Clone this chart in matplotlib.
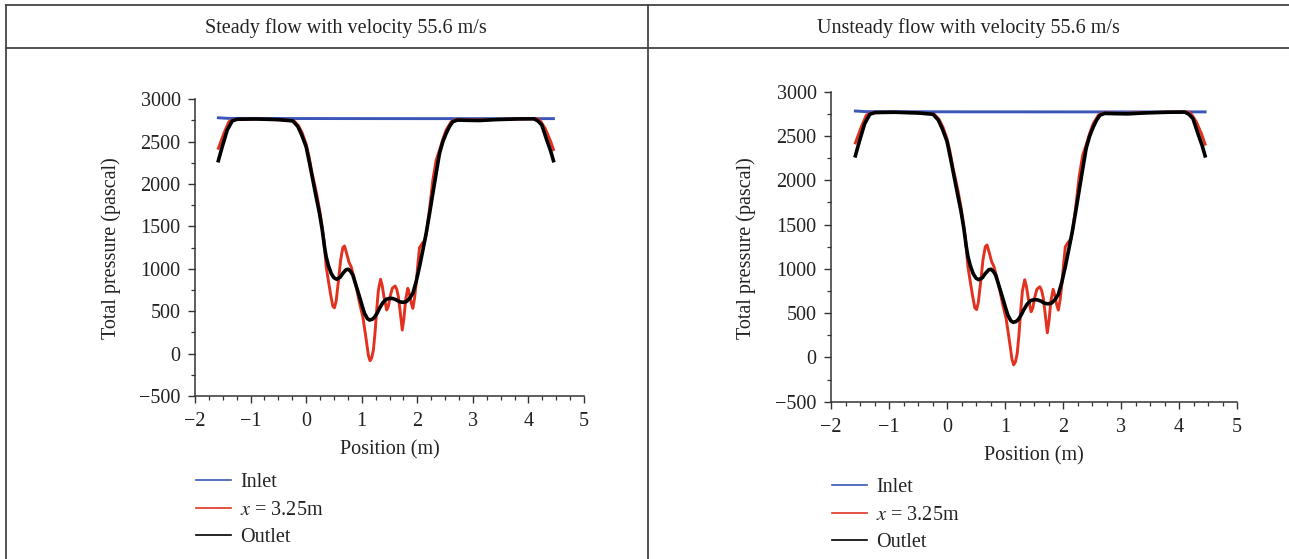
import matplotlib
matplotlib.use('Agg')
import matplotlib.pyplot as plt
from matplotlib.lines import Line2D
from matplotlib.ticker import MultipleLocator

plt.rcParams['font.family'] = ['Liberation Serif', 'DejaVu Serif']
plt.rcParams['mathtext.fontset'] = 'stix'

# ---- data (position in m, total pressure in Pa) ----
titles = ['Steady flow with velocity 55.6 m/s', 'Unsteady flow with velocity 55.6 m/s']
series_names = ['Inlet', '$x$ = 3.25m', 'Outlet']

inlet_x = [-1.58, -1.4, 0.0, 2.0, 4.45]
inlet_p = [2782, 2775, 2773, 2772, 2772]

mid_x = [-1.58, -1.48, -1.39, -1.30, -1.0, -0.6, -0.3, -0.22, -0.14, -0.07, 0.0, 0.05,
         0.10, 0.14, 0.19, 0.24, 0.28, 0.32, 0.36, 0.40, 0.44, 0.48, 0.51, 0.54, 0.58,
         0.62, 0.66, 0.69, 0.73, 0.77, 0.81, 0.86, 0.90, 0.96, 1.02, 1.06, 1.09, 1.12,
         1.15, 1.18, 1.21, 1.24, 1.27, 1.30, 1.34, 1.37, 1.40, 1.45, 1.48, 1.51, 1.55,
         1.60, 1.63, 1.66, 1.70, 1.73, 1.76, 1.79, 1.83, 1.86, 1.89, 1.92, 1.95, 1.98,
         2.01, 2.04, 2.09, 2.14, 2.17, 2.22, 2.28, 2.34, 2.40, 2.46, 2.52, 2.61, 2.70,
         3.0, 3.4, 3.8, 4.16, 4.22, 4.30, 4.39, 4.45]
mid_p = [2422, 2599, 2736, 2760, 2768, 2762, 2752, 2745, 2690, 2600, 2470, 2330,
         2150, 2030, 1880, 1700, 1530, 1330, 1030, 860, 700, 560, 540, 620, 850,
         1100, 1250, 1270, 1180, 1080, 1025, 900, 790, 600, 435, 260, 122, -20,
         -84, -50, 42, 250, 520, 750, 877, 800, 671, 515, 560, 671, 770,
         798, 760, 671, 450, 278, 420, 633, 770, 700, 600, 534, 650, 830,
         1050, 1250, 1301, 1340, 1450, 1700, 2048, 2284, 2400, 2530, 2638, 2736, 2760,
         2755, 2762, 2770, 2770, 2740, 2658, 2520, 2408]

outlet_x = [-1.58, -1.51, -1.42, -1.33, -1.24, -0.9, -0.5, -0.24, -0.15, -0.08, 0.0,
            0.06, 0.12, 0.18, 0.24, 0.29, 0.33, 0.36, 0.40, 0.45, 0.50, 0.55, 0.61,
            0.66, 0.72, 0.76, 0.80, 0.84, 0.90, 0.96, 1.01, 1.05, 1.10, 1.14, 1.19,
            1.23, 1.28, 1.32, 1.38, 1.44, 1.50, 1.56, 1.62, 1.68, 1.74, 1.80, 1.86,
            1.92, 1.98, 2.04, 2.10, 2.16, 2.22, 2.28, 2.34, 2.40, 2.46, 2.52, 2.58,
            2.64, 2.72, 2.9, 3.12, 3.4, 3.8, 4.10, 4.17, 4.24, 4.33, 4.40, 4.45]
outlet_p = [2276, 2441, 2638, 2745, 2765, 2768, 2760, 2745, 2680, 2580, 2440,
            2250, 2050, 1850, 1655, 1458, 1262, 1143, 1040, 947, 895, 877, 900,
            947, 990, 995, 970, 927, 800, 671, 560, 476, 415, 396, 405,
            428, 480, 534, 600, 641, 652, 650, 635, 612, 605, 612, 650,
            711, 850, 1025, 1220, 1420, 1650, 1891, 2130, 2363, 2500, 2599, 2680,
            2736, 2755, 2752, 2750, 2760, 2768, 2770, 2745, 2697, 2520, 2390, 2276]

colors = ['#3b56b8', '#e2321f', '#000000']
widths = [2.1, 2.1, 2.6]

W, H = 1289, 559
fig = plt.figure(figsize=(W / 100, H / 100), dpi=100)


def fx(px):
    return px / W


def fy(py):
    return 1 - py / H


def panel(box, title_x, ylab_x, xlab_y, leg_xy, title):
    l, t, r, b = box
    ax = fig.add_axes([fx(l), fy(b), fx(r - l), (b - t) / H])
    ax.plot(inlet_x, inlet_p, color=colors[0], lw=widths[0], label=series_names[0])
    ax.plot(mid_x, mid_p, color=colors[1], lw=widths[1], label=series_names[1])
    ax.plot(outlet_x, outlet_p, color=colors[2], lw=widths[2], label=series_names[2])
    ax.set_xlim(-2, 5)
    ax.set_ylim(-500, 3000)
    ax.xaxis.set_major_locator(MultipleLocator(1))
    ax.xaxis.set_minor_locator(MultipleLocator(0.25))
    ax.yaxis.set_major_locator(MultipleLocator(500))
    ax.yaxis.set_minor_locator(MultipleLocator(250))
    for s in ['top', 'right']:
        ax.spines[s].set_visible(False)
    for s in ['left', 'bottom']:
        ax.spines[s].set_color('#333333')
        ax.spines[s].set_linewidth(1.1)
    ax.tick_params(which='major', length=4.8, width=1.0, color='#333333',
                   labelsize=14.5, labelcolor='#222222')
    ax.tick_params(axis='x', which='major', pad=7)
    ax.tick_params(axis='y', which='major', pad=5.5)
    ax.tick_params(which='minor', length=3, width=0.9, color='#333333')
    ax.set_ylabel('Total pressure (pascal)', fontsize=14.5, color='#222222', va='center')
    ax.yaxis.set_label_coords(fx(ylab_x), fy(248), transform=fig.transFigure)
    ax.set_xlabel('Position (m)', fontsize=14.5, color='#222222', va='center')
    ax.xaxis.set_label_coords(fx((l + r) / 2), fy(xlab_y), transform=fig.transFigure)
    leg = ax.legend(loc='upper left', bbox_to_anchor=(fx(leg_xy[0]), fy(leg_xy[1])),
                    bbox_transform=fig.transFigure, frameon=False, fontsize=14.5,
                    borderpad=0, borderaxespad=0, handlelength=1.75,
                    handletextpad=0.45, labelspacing=0.42)
    for line in leg.get_lines():
        line.set_linewidth(1.2)
    for txt in leg.get_texts():
        txt.set_color('#222222')
    fig.text(fx(title_x), fy(28), title, ha='center', va='center',
             fontsize=14.5, color='#222222')
    return ax


panel((195, 99.3, 584, 396), 346, 111, 450, (196, 473), titles[0])
panel((831, 91.7, 1237, 401.7), 968, 746, 456, (832, 478), titles[1])

# table-like frame around the two panels
frame = dict(transform=fig.transFigure, color='#444444', lw=1.3)
fig.add_artist(Line2D([fx(6), 1], [fy(5), fy(5)], **frame))
fig.add_artist(Line2D([fx(6), 1], [fy(48), fy(48)], **frame))
fig.add_artist(Line2D([fx(6), fx(6)], [fy(5), 0], **frame))
fig.add_artist(Line2D([fx(648), fx(648)], [fy(5), 0], **frame))

fig.savefig('out.png', dpi=100)
